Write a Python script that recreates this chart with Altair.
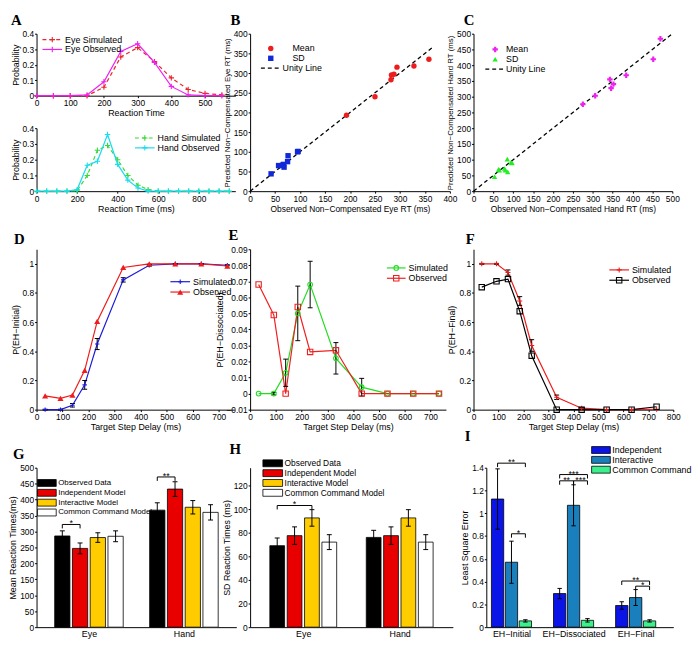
import json
import altair as alt
import pandas as pd

FONT = "Liberation Sans"
SERIF = "Liberation Serif"
PLUS = "M-1,0L1,0M0,-1L0,1"
HBAR = "M-1,0L1,0"
DOWN = "M0,0L0,1"

# ===== Panel A : RT distributions =====
eye_rt = [0, 50, 100, 150, 200, 250, 300, 350, 400, 450, 500, 550]
eye_sim = [0, 0, 0, 0, 0.055, 0.25, 0.31, 0.22, 0.115, 0.04, 0.015, 0.005]
eye_obs = [0, 0, 0, 0.005, 0.09, 0.285, 0.335, 0.215, 0.06, 0.005, 0, 0]
hand_rt = [0, 50, 100, 150, 200, 250, 300, 350, 400, 450, 500, 550, 600, 650, 700, 750, 800, 850, 900, 950]
hand_sim = [0, 0, 0, 0, 0.003, 0.1, 0.26, 0.29, 0.2, 0.1, 0.038, 0.01, 0, 0, 0, 0, 0, 0, 0, 0]
hand_obs = [0, 0, 0, 0, 0.01, 0.165, 0.19, 0.36, 0.17, 0.07, 0.02, 0, 0, 0, 0, 0, 0, 0, 0, 0]

# ===== Panel B : eye RT predicted vs observed =====
b_mean_obs = [193, 250, 282, 283, 288, 294, 328, 358]
b_mean_pred = [193, 240, 283, 295, 297, 315, 318, 335]
b_sd_obs = [42, 57, 65, 67, 68, 75, 76, 95, 96]
b_sd_pred = [44, 65, 66, 68, 61, 75, 90, 100, 101]
b_unity = [0, 367]

# ===== Panel C : hand RT predicted vs observed =====
c_mean_obs = [275, 306, 343, 346, 352, 384, 452, 470]
c_mean_pred = [276, 303, 355, 327, 340, 368, 419, 484]
c_sd_obs = [53, 63, 65, 78, 80, 85, 86, 94, 97]
c_sd_pred = [46, 69, 67, 72, 67, 102, 61, 91, 90]
c_unity = [0, 500]

# ===== Panels D-F : target step delay =====
tsd = [33, 92, 138, 185, 233, 333, 433, 533, 633, 733]
d_sim = [0, 0, 0.03, 0.17, 0.45, 0.89, 0.99, 1.0, 1.0, 0.99]
d_sim_err = [0.003, 0.003, 0.012, 0.03, 0.038, 0.015, 0.006, 0.002, 0.002, 0.004]
d_obs = [0.095, 0.077, 0.1, 0.27, 0.605, 0.975, 1.0, 1.0, 1.0, 0.985]

e_sim = [0, 0, 0.013, 0.05, 0.068, 0.022, 0.004, 0, 0, 0]
e_sim_err = [0, 0.0008, 0.0085, 0.017, 0.0145, 0.0098, 0.0055, 0, 0, 0]
e_obs = [0.068, 0.049, 0, 0.054, 0.026, 0.027, 0, 0, 0, 0]

f_sim = [1.0, 1.0, 0.94, 0.745, 0.44, 0.085, 0.01, 0, 0, 0.003]
f_sim_err = [0.003, 0.003, 0.018, 0.03, 0.04, 0.015, 0.005, 0, 0, 0]
f_obs = [0.84, 0.88, 0.895, 0.675, 0.37, 0, 0, 0, 0, 0.02]

# ===== Panels G-H : RT bars =====
gh_groups = ["Eye", "Hand"]
gh_models = ["Observed Data", "Independent Model", "Interactive Model", "Common Command Model"]
gh_colors = ["#000000", "#e80000", "#ffcc00", "#ffffff"]
g_vals = {"Eye": [286, 247, 281, 285], "Hand": [367, 433, 376, 360]}
g_errs = {"Eye": [16, 17, 15, 17], "Hand": [23, 23, 21, 24]}
g_sig = [("Eye", 0, 1, 322, "*"), ("Hand", 0, 1, 471, "**")]
h_vals = {"Eye": [69, 77.5, 92.5, 72], "Hand": [76, 77.5, 92.5, 72]}
h_errs = {"Eye": [6.5, 7.4, 7, 6.3], "Hand": [6, 7.4, 7, 6.3]}
h_sig = [("Eye", 0, 2, 103, "*")]

# ===== Panel I : least square error =====
i_groups = ["EH\u2212Initial", "EH\u2212Dissociated", "EH\u2212Final"]
i_models = ["Independent", "Interactive", "Common Command"]
i_colors = ["#0a14e6", "#1a80bd", "#3cf08c"]
i_vals = {"EH\u2212Initial": [1.125, 0.57, 0.055],
          "EH\u2212Dissociated": [0.295, 1.07, 0.06],
          "EH\u2212Final": [0.19, 0.26, 0.055]}
i_errs = {"EH\u2212Initial": [0.265, 0.185, 0.01],
          "EH\u2212Dissociated": [0.045, 0.18, 0.015],
          "EH\u2212Final": [0.033, 0.07, 0.01]}
i_sig = [("EH\u2212Initial", 0, 2, 1.44, "**"), ("EH\u2212Initial", 1, 2, 0.82, "*"),
         ("EH\u2212Dissociated", 0, 2, 1.34, "***"), ("EH\u2212Dissociated", 0, 1, 1.285, "**"),
         ("EH\u2212Dissociated", 1, 2, 1.285, "***"),
         ("EH\u2212Final", 0, 2, 0.405, "**"), ("EH\u2212Final", 1, 2, 0.36, "*")]


# ---------------- helpers ----------------
def axis(title, values, fmt="~f", **kw):
    p = dict(values=values, format=fmt, grid=False, tickSize=2, labelPadding=1,
             titlePadding=2, labelFlush=False, labelOverlap=False)
    p.update(kw)
    p["title"] = title
    return alt.Axis(**p)


def letter(t, dx):
    return alt.TitleParams(text=t, anchor="start", frame="group", font=SERIF, fontSize=15,
                           fontWeight="bold", color="black", dx=dx, offset=2)


def enc(field, scale, ax, ch="x"):
    if ch == "x":
        return alt.X(f"{field}:Q", scale=scale, axis=ax)
    return alt.Y(f"{field}:Q", scale=scale, axis=ax)


def line_layer(df, X, Y, xf, yf, color, dash=None, sw=1.2):
    kw = dict(color=color, strokeWidth=sw)
    if dash:
        kw["strokeDash"] = dash
    return alt.Chart(df).mark_line(**kw).encode(x=X(xf), y=Y(yf))


def point_layer(df, X, Y, xf, yf, color, shape, filled, size, sw=1.1):
    return alt.Chart(df).mark_point(shape=shape, filled=filled, color=color, size=size,
                                    opacity=1, strokeWidth=sw).encode(x=X(xf), y=Y(yf))


def err_layers(df, X, Y, xf, lo, hi, cap=25):
    rule = alt.Chart(df).mark_rule(color="black", strokeWidth=1).encode(
        x=X(xf), y=Y(lo), y2=alt.Y2(hi))
    caps = [point_layer(df, X, Y, xf, f, "black", HBAR, False, cap, 1) for f in (lo, hi)]
    return [rule] + caps


def leg_line(label, x0, x1, y, color, dash=None, shape=None, filled=False, size=30, tx=None):
    df = pd.DataFrame({"label": [label]})
    out = []
    if x1 > x0:
        kw = dict(color=color, strokeWidth=1.2)
        if dash:
            kw["strokeDash"] = dash
        out.append(alt.Chart(df).mark_rule(**kw).encode(
            x=alt.value(x0), x2=alt.value(x1), y=alt.value(y)))
    if shape:
        out.append(alt.Chart(df).mark_point(shape=shape, filled=filled, color=color, size=size,
                                            opacity=1, strokeWidth=1.1).encode(
            x=alt.value((x0 + x1) / 2), y=alt.value(y)))
    out.append(alt.Chart(df).mark_text(align="left", baseline="middle", font=FONT, fontSize=9,
                                       color="black").encode(
        x=alt.value(tx if tx is not None else x1 + 3), y=alt.value(y), text="label:N"))
    return out


def leg_box(label, x0, x1, yc, fill, tx, h=7, fs=9):
    df = pd.DataFrame({"label": [label]})
    box = alt.Chart(df).mark_rect(fill=fill, stroke="black", strokeWidth=0.8).encode(
        x=alt.value(x0), x2=alt.value(x1), y=alt.value(yc - h / 2), y2=alt.value(yc + h / 2))
    txt = alt.Chart(df).mark_text(align="left", baseline="middle", font=FONT, fontSize=fs,
                                  color="black").encode(
        x=alt.value(tx), y=alt.value(yc), text="label:N")
    return [box, txt]


# ---------------- Panel A ----------------
A_W, A_H = 202, 160
A_TOP = 63
A_BOT0 = 96
eye_df = pd.DataFrame({"rt": eye_rt, "sim": eye_sim, "obs": eye_obs})
hand_df = pd.DataFrame({"rt": hand_rt, "sim": hand_sim, "obs": hand_obs})

xs_e = alt.Scale(domain=[0, 590], nice=False)
ys_e = alt.Scale(domain=[0, 0.4], range=[A_TOP, 0], nice=False)
xa_e = axis("Reaction Time", [0, 100, 200, 300, 400, 500], orient="bottom", offset=A_TOP - A_H)
ya_e = axis("Probability", [0, 0.1, 0.2, 0.3, 0.4], orient="left")
XE = lambda f: enc(f, xs_e, xa_e, "x")
YE = lambda f: enc(f, ys_e, ya_e, "y")

xs_h = alt.Scale(domain=[0, 980], nice=False)
ys_h = alt.Scale(domain=[0, 0.4], range=[A_H, A_BOT0], nice=False)
xa_h = axis("Reaction Time (ms)", [0, 200, 400, 600, 800], orient="bottom")
ya_h = axis("Probability", [0, 0.1, 0.2, 0.3, 0.4], orient="left")
XH = lambda f: enc(f, xs_h, xa_h, "x")
YH = lambda f: enc(f, ys_h, ya_h, "y")

C_ES, C_EO, C_HS, C_HO = "#e8262a", "#f020f0", "#3ad83a", "#18dcf0"
eye_layers = [
    line_layer(eye_df, XE, YE, "rt", "sim", C_ES, dash=[4, 3]),
    point_layer(eye_df, XE, YE, "rt", "sim", C_ES, PLUS, False, 30),
    line_layer(eye_df, XE, YE, "rt", "obs", C_EO),
    point_layer(eye_df, XE, YE, "rt", "obs", C_EO, PLUS, False, 30),
] + leg_line("Eye Simulated", 6, 26, 6, C_ES, dash=[4, 3], shape=PLUS) \
  + leg_line("Eye Observed", 6, 26, 16, C_EO, shape=PLUS)
hand_layers = [
    line_layer(hand_df, XH, YH, "rt", "sim", C_HS, dash=[4, 3]),
    point_layer(hand_df, XH, YH, "rt", "sim", C_HS, PLUS, False, 30),
    line_layer(hand_df, XH, YH, "rt", "obs", C_HO),
    point_layer(hand_df, XH, YH, "rt", "obs", C_HO, PLUS, False, 30),
] + leg_line("Hand Simulated", 100, 120, 106, C_HS, dash=[4, 3], shape=PLUS) \
  + leg_line("Hand Observed", 100, 120, 116, C_HO, shape=PLUS)

panelA = alt.layer(alt.layer(*eye_layers), alt.layer(*hand_layers)).resolve_scale(
    x="independent", y="independent").properties(width=A_W, height=A_H, title=letter("A", -26))


# ---------------- Panels B, C ----------------
def scatter_panel(mo, mp, so, sp, unity, dom, ticks, xt, yt, mcol, mshape, scol, sshape,
                  W, H, let, ldx, leg):
    xs = alt.Scale(domain=dom, nice=False)
    ys = alt.Scale(domain=dom, nice=False)
    xa = axis(xt, ticks, titleFontSize=8.5)
    ya = axis(yt, ticks, titleFontSize=8)
    X = lambda f: enc(f, xs, xa, "x")
    Y = lambda f: enc(f, ys, ya, "y")
    mdf = pd.DataFrame({"obs": mo, "pred": mp})
    sdf = pd.DataFrame({"obs": so, "pred": sp})
    udf = pd.DataFrame({"v": unity})
    layers = [
        alt.Chart(udf).mark_line(color="black", strokeDash=[4, 3], strokeWidth=1.3).encode(
            x=X("v"), y=Y("v")),
        point_layer(mdf, X, Y, "obs", "pred", mcol, mshape, True, 30),
        point_layer(sdf, X, Y, "obs", "pred", scol, sshape, True, 30),
    ]
    mx, tx1, tx2, y0 = leg
    layers += leg_line("Mean", mx, mx, y0, mcol, shape=mshape, filled=True, tx=tx1)
    layers += leg_line("SD", mx, mx, y0 + 10, scol, shape=sshape, filled=True, tx=tx1)
    layers += leg_line("Unity Line", mx - 10, mx + 10, y0 + 20, "black", dash=[4, 3], tx=tx2)
    return alt.layer(*layers).properties(width=W, height=H, title=letter(let, ldx))


panelB = scatter_panel(b_mean_obs, b_mean_pred, b_sd_obs, b_sd_pred, b_unity, [0, 400],
                       [0, 50, 100, 150, 200, 250, 300, 350, 400],
                       "Observed Non\u2212Compensated Eye RT (ms)",
                       "Predicted Non\u2212Compensated Eye RT (ms)",
                       "#ee1c1c", "circle", "#1028d8", "square", 203, 160, "B", -20,
                       (21, 43, 33, 15))
panelC = scatter_panel(c_mean_obs, c_mean_pred, c_sd_obs, c_sd_pred, c_unity, [0, 500],
                       [0, 50, 100, 150, 200, 250, 300, 350, 400, 450, 500],
                       "Observed Non\u2212Compensated Hand RT (ms)",
                       "Predicted Non\u2212Compensated Hand RT (ms)",
                       "#ee22ee", "cross", "#22ee22", "triangle-up", 202, 160, "C", -10,
                       (22, 33, 33, 16))


# ---------------- Panels D, E, F ----------------
def delay_panel(sim, err, obs, ydom, yticks, ytitle, xdom, xticks, W, H,
                sim_style, obs_style, let, ldx, leg):
    xs = alt.Scale(domain=xdom, nice=False)
    ys = alt.Scale(domain=ydom, nice=False)
    xa = axis("Target Step Delay (ms)", xticks)
    ya = axis(ytitle, yticks)
    X = lambda f: enc(f, xs, xa, "x")
    Y = lambda f: enc(f, ys, ya, "y")
    df = pd.DataFrame({"t": tsd, "sim": sim, "err": err, "obs": obs})
    df["lo"] = df["sim"] - df["err"]
    df["hi"] = df["sim"] + df["err"]
    edf = df[df["err"] > 0]
    scol, sshape, sfill, ssize = sim_style
    ocol, oshape, ofill, osize = obs_style
    layers = [
        line_layer(df, X, Y, "t", "sim", scol),
        line_layer(df, X, Y, "t", "obs", ocol),
    ]
    layers += err_layers(edf, X, Y, "t", "lo", "hi")
    layers += [
        point_layer(df, X, Y, "t", "sim", scol, sshape, sfill, ssize),
        point_layer(df, X, Y, "t", "obs", ocol, oshape, ofill, osize),
    ]
    x0, x1, y0 = leg
    layers += leg_line("Simulated", x0, x1, y0, scol, shape=sshape, filled=sfill, size=ssize)
    layers += leg_line("Observed", x0, x1, y0 + 10.5, ocol, shape=oshape, filled=ofill, size=osize)
    return alt.layer(*layers).properties(width=W, height=H, title=letter(let, ldx))


p_ticks = [0, 0.2, 0.4, 0.6, 0.8, 1]
panelD = delay_panel(d_sim, d_sim_err, d_obs, [0, 1.1], p_ticks, "P(EH\u2212Initial)",
                     [0, 760], [0, 100, 200, 300, 400, 500, 600, 700], 201, 163,
                     ("#1a1adc", PLUS, False, 20), ("#ee1c1c", "triangle-up", True, 38),
                     "D", -23, (136, 156, 33))
panelE = delay_panel(e_sim, e_sim_err, e_obs, [-0.01, 0.09],
                     [-0.01, 0, 0.01, 0.02, 0.03, 0.04, 0.05, 0.06, 0.07, 0.08, 0.09],
                     "P(EH\u2212Dissociated)",
                     [0, 760], [0, 100, 200, 300, 400, 500, 600, 700], 199, 163,
                     ("#22dd22", "circle", False, 22), ("#ee2020", "square", False, 30),
                     "E", -22, (139, 158, 19))
panelF = delay_panel(f_sim, f_sim_err, f_obs, [0, 1.1], p_ticks, "P(EH\u2212Final)",
                     [0, 800], [0, 100, 200, 300, 400, 500, 600, 700, 800], 203, 163,
                     ("#ee1c1c", PLUS, False, 26), ("#000000", "square", False, 30),
                     "F", -8, (138, 158, 21))


# ---------------- Bar panels ----------------
def bar_panel(groups, models, colors, vals, errs, sig, step, bsize, xdom, xrange_, ydom,
              yticks, ytitle, W, H, let, ldx, legend, yaxis_offset=0, cap=25):
    rows = []
    nm = len(models)
    for gi, g in enumerate(groups):
        for mi, m in enumerate(models):
            v, e = vals[g][mi], errs[g][mi]
            rows.append({"group": g, "model": m, "col": colors[mi], "val": v,
                         "lo": v - e, "hi": v + e,
                         "pos": gi + 1 + (mi - (nm - 1) / 2) * step})
    df = pd.DataFrame(rows)
    sc_kw = dict(domain=xdom, nice=False, zero=False)
    if xrange_:
        sc_kw["range"] = xrange_
    xs = alt.Scale(**sc_kw)
    ys = alt.Scale(domain=ydom, nice=False)
    xa = alt.Axis(values=list(range(1, len(groups) + 1)), title=None, grid=False, ticks=False,
                  labelPadding=3, labelFlush=False, labelOverlap=False, labelFontSize=9,
                  labelExpr=f"{json.dumps(groups)}[datum.value - 1]")
    ya_kw = {}
    if yaxis_offset:
        ya_kw["offset"] = yaxis_offset
    ya = axis(ytitle, yticks, **ya_kw)
    X = lambda f: enc(f, xs, xa, "x")
    Y = lambda f: enc(f, ys, ya, "y")
    layers = [alt.Chart(df).mark_bar(size=bsize, orient="vertical", stroke="black",
                                     strokeWidth=0.8, opacity=1).encode(
        x=X("pos"), y=Y("val"), color=alt.Color("col:N", scale=None))]
    layers += err_layers(df, X, Y, "pos", "lo", "hi", cap)
    srows = []
    for g, a, b, lvl, lab in sig:
        gi = groups.index(g)
        xa_ = gi + 1 + (a - (nm - 1) / 2) * step
        xb_ = gi + 1 + (b - (nm - 1) / 2) * step
        srows.append({"x1": xa_, "x2": xb_, "xm": (xa_ + xb_) / 2, "lvl": lvl, "lab": lab})
    sdf = pd.DataFrame(srows)
    layers += [
        alt.Chart(sdf).mark_rule(color="black", strokeWidth=1).encode(
            x=X("x1"), x2=alt.X2("x2"), y=Y("lvl")),
        point_layer(sdf, X, Y, "x1", "lvl", "black", DOWN, False, 64, 1),
        point_layer(sdf, X, Y, "x2", "lvl", "black", DOWN, False, 64, 1),
        alt.Chart(sdf).mark_text(font=FONT, fontSize=9, color="black", baseline="alphabetic",
                                 dy=2).encode(x=X("xm"), y=Y("lvl"), text="lab:N"),
    ]
    bx0, bx1, by0, dy, tx, fs = legend
    for k, (m, c) in enumerate(zip(models, colors)):
        layers += leg_box(m, bx0, bx1, by0 + k * dy, c, tx, fs=fs)
    return alt.layer(*layers).properties(width=W, height=H, title=letter(let, ldx))


panelG = bar_panel(gh_groups, gh_models, gh_colors, g_vals, g_errs, g_sig, 0.187, 15.5,
                   [0.5, 2.5], None, [0, 500], [0, 50, 100, 150, 200, 250, 300, 350, 400, 450, 500],
                   "Mean Reaction Times(ms)", 203, 162, "G", -24, (1, 20, 15.5, 10, 22, 8))
panelH = bar_panel(gh_groups, gh_models, gh_colors, h_vals, h_errs, h_sig, 0.18, 15,
                   [0.5, 2.5], [0, 206], [0, 135], [0, 20, 40, 60, 80, 100, 120],
                   "SD Reaction Times (ms)", 213, 162, "H", -21, (13, 33, -4.5, 10, 35, 8.5))
panelI = bar_panel(i_groups, i_models, i_colors, i_vals, i_errs, i_sig, 0.224, 12.5,
                   [0.674, 3.527], [13, 203], [0, 1.4], [0, 0.2, 0.4, 0.6, 0.8, 1, 1.2, 1.4],
                   "Least Square Error", 203, 162, "I", -9, (120, 139, -18, 10, 141, 9),
                   yaxis_offset=-13, cap=20)

chart = alt.concat(
    panelA, panelB, panelC, panelD, panelE, panelF, panelG, panelH, panelI,
    columns=3, spacing={"row": 59, "column": 14}, bounds="flush", align="each",
).properties(padding=0).configure_view(stroke=None).configure_axis(
    labelFont=FONT, titleFont=FONT, labelFontSize=8.5, titleFontSize=9,
    titleFontWeight="normal", labelColor="black", titleColor="black",
    domainColor="black", tickColor="black", domainWidth=1,
)

chart.save("out.html", embed_options={"renderer": "svg", "actions": False})
